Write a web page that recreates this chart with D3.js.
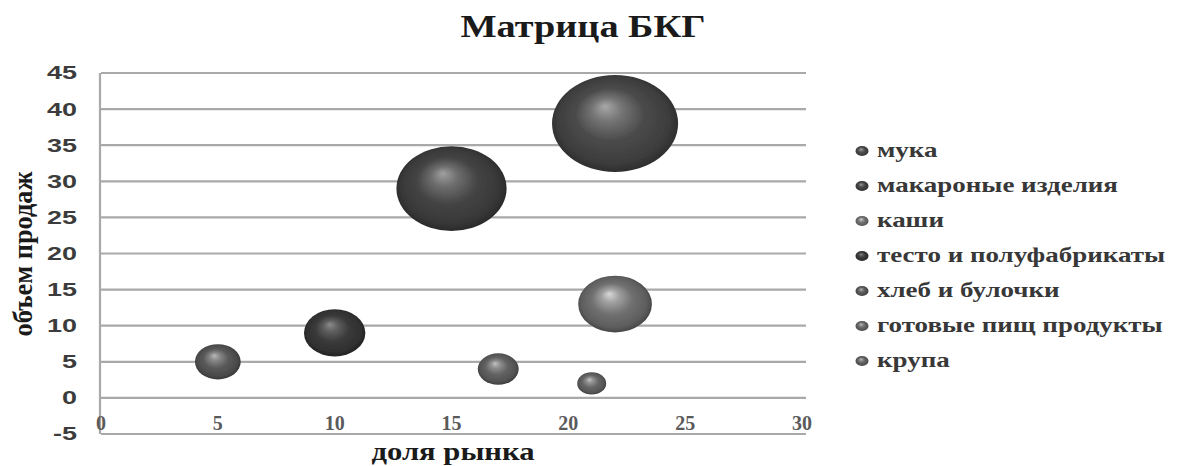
<!DOCTYPE html>
<html>
<head>
<meta charset="utf-8">
<script src="https://cdn.jsdelivr.net/npm/d3@7/dist/d3.min.js"></script>
<style>
  html, body { margin: 0; padding: 0; background: #fff; }
  svg { display: block; }
  .serif { font-family: "Liberation Serif", "Times New Roman", serif; font-weight: bold; }
</style>
</head>
<body>
<svg id="chart" width="1181" height="466"></svg>
<script>
// BCG matrix: market share vs sales volume, bubble area = sales volume
const categories = ["мука", "макароные изделия", "каши", "тесто и полуфабрикаты",
                    "хлеб и булочки", "готовые пищ продукты", "крупа"];
const marketShare = [22, 15, 22, 10, 5, 21, 17];
const salesVolume = [38, 29, 13, 9, 5, 2, 4];
const bubbleSize  = [38, 29, 13, 9, 5, 2, 4];
const xTickValues = [0, 5, 10, 15, 20, 25, 30];
const yTickValues = [-5, 0, 5, 10, 15, 20, 25, 30, 35, 40, 45];

const chartTitle = "Матрица БКГ";
const xTitle = "доля рынка";
const yTitle = "объем продаж";

// sphere shading per series: [highlight, body, rim]
const shades = [
  ["#a8a8a8", "#4a4a4a", "#262626"],
  ["#a0a0a0", "#444444", "#232323"],
  ["#d8d8d8", "#707070", "#3c3c3c"],
  ["#8a8a8a", "#3a3a3a", "#1c1c1c"],
  ["#b8b8b8", "#595959", "#2e2e2e"],
  ["#c4c4c4", "#666666", "#363636"],
  ["#c0c0c0", "#626262", "#333333"]
];

const svg = d3.select("#chart");
const sans = "'Liberation Sans', Arial, sans-serif";

const x = d3.scaleLinear().domain([0, 30]).range([101, 802]);
const y = d3.scaleLinear().domain([-5, 45]).range([434, 73]);
const r = d3.scaleSqrt().domain([0, 38]).range([0, 48.5]);
const aspect = 1.3; // bubbles are drawn wider than tall

const defs = svg.append("defs");
shades.forEach((s, i) => {
  const g = defs.append("radialGradient")
    .attr("id", "sphere" + i)
    .attr("cx", 0.5).attr("cy", 0.5).attr("r", 0.55)
    .attr("fx", 0.42).attr("fy", 0.32);
  g.append("stop").attr("offset", "0%").attr("stop-color", s[0]);
  g.append("stop").attr("offset", "22%").attr("stop-color", d3.interpolateRgb(s[0], s[1])(0.55));
  g.append("stop").attr("offset", "50%").attr("stop-color", s[1]);
  g.append("stop").attr("offset", "80%").attr("stop-color", d3.interpolateRgb(s[1], s[2])(0.35));
  g.append("stop").attr("offset", "100%").attr("stop-color", s[2]);
});
defs.append("filter").attr("id", "soft")
  .attr("x", "-10%").attr("y", "-10%").attr("width", "120%").attr("height", "120%")
  .append("feGaussianBlur").attr("stdDeviation", 0.7);

// gridlines
svg.append("g")
  .selectAll("line")
  .data(yTickValues)
  .join("line")
  .attr("x1", x.range()[0])
  .attr("x2", x.range()[1] + 4)
  .attr("y1", d => y(d))
  .attr("y2", d => y(d))
  .attr("stroke", "#a9a9a9")
  .attr("stroke-width", 2.2);

// vertical axis line
svg.append("line")
  .attr("x1", x(0) - 1).attr("x2", x(0) - 1)
  .attr("y1", y(45)).attr("y2", y(-5))
  .attr("stroke", "#a9a9a9")
  .attr("stroke-width", 2.2);

// y tick labels
const yLabels = svg.append("g")
  .selectAll("text")
  .data(yTickValues)
  .join("text")
  .attr("x", 77)
  .attr("y", d => y(d))
  .attr("dy", "0.36em")
  .attr("text-anchor", "end")
  .attr("font-family", sans)
  .attr("font-weight", "bold")
  .attr("font-size", 18)
  .attr("fill", "#3c3c3c")
  .text(d => d);

// x tick labels (axis crosses at 0)
svg.append("g")
  .selectAll("text")
  .data(xTickValues)
  .join("text")
  .attr("class", "serif")
  .attr("x", d => x(d))
  .attr("y", 430)
  .attr("text-anchor", "middle")
  .attr("font-size", 20)
  .attr("fill", "#5a5a5a")
  .text(d => d);

// bubbles
const order = d3.range(categories.length);
svg.append("g")
  .attr("filter", "url(#soft)")
  .selectAll("ellipse")
  .data(order)
  .join("ellipse")
  .attr("cx", i => x(marketShare[i]))
  .attr("cy", i => y(salesVolume[i]))
  .attr("rx", i => r(bubbleSize[i]) * aspect)
  .attr("ry", i => r(bubbleSize[i]))
  .attr("fill", i => `url(#sphere${i})`);

// title
svg.append("text")
  .attr("class", "serif")
  .attr("x", 583)
  .attr("y", 37)
  .attr("text-anchor", "middle")
  .attr("font-size", 31)
  .attr("fill", "#1a1a1a")
  .attr("textLength", 245)
  .attr("lengthAdjust", "spacingAndGlyphs")
  .text(chartTitle);

// axis titles
svg.append("text")
  .attr("class", "serif")
  .attr("x", 453)
  .attr("y", 460)
  .attr("text-anchor", "middle")
  .attr("font-size", 25)
  .attr("fill", "#1a1a1a")
  .attr("textLength", 163)
  .attr("lengthAdjust", "spacingAndGlyphs")
  .text(xTitle);

svg.append("text")
  .attr("class", "serif")
  .attr("transform", "translate(32,254) rotate(-90)")
  .attr("text-anchor", "middle")
  .attr("font-size", 27)
  .attr("fill", "#1a1a1a")
  .attr("textLength", 165)
  .attr("lengthAdjust", "spacingAndGlyphs")
  .text(yTitle);

// legend
const legend = svg.append("g");
const items = legend.selectAll("g")
  .data(order)
  .join("g")
  .attr("transform", i => `translate(0,${151 + i * 35})`);

items.append("ellipse")
  .attr("cx", 862)
  .attr("cy", 0)
  .attr("rx", 6.5)
  .attr("ry", 5)
  .attr("fill", i => `url(#sphere${i})`);

const legendText = items.append("text")
  .attr("class", "serif")
  .attr("x", 877)
  .attr("y", 6)
  .attr("font-size", 21)
  .attr("fill", "#383838")
  .text(i => categories[i]);

// horizontal stretch of legend text so that the longest entry spans 288px
const widths = legendText.nodes().map(n => n.getComputedTextLength());
const k = 288 / d3.max(widths);
legendText.each(function (i) {
  d3.select(this)
    .attr("textLength", widths[i] * k)
    .attr("lengthAdjust", "spacingAndGlyphs");
});

// widen y tick labels the same way ("45" spans ~30px)
const yw = yLabels.nodes().map(n => n.getComputedTextLength());
const ky = 30 / yw[yTickValues.indexOf(45)];
yLabels.each(function (d, i) {
  d3.select(this)
    .attr("textLength", yw[i] * ky)
    .attr("lengthAdjust", "spacingAndGlyphs");
});
</script>
</body>
</html>
